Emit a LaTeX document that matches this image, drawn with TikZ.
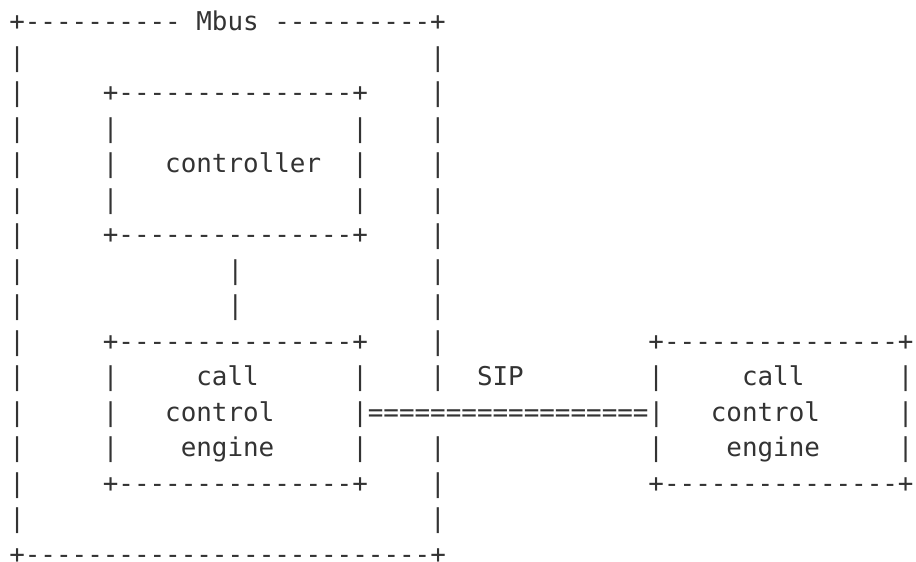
\documentclass[tikz,border=0pt]{standalone}
\usepackage{fontspec}
\setmonofont{DejaVu Sans Mono}
\definecolor{ink}{HTML}{333333}
\begin{document}
\begin{tikzpicture}[x=0.5pt,y=-0.5pt,
  asc/.style={font=\ttfamily\fontsize{12.95pt}{15pt}\selectfont,
              text=ink, inner sep=0pt, anchor=base west}]
\useasboundingbox (0,0) rectangle (916,562);
% character grid: column pitch 15.59, row pitch 35.53
\foreach \r/\c/\s [count=\k] in {
  0/0/{+----------}, 0/12/Mbus, 0/17/{----------+},
  1/0/|, 1/27/|,
  2/0/|, 2/6/{+---------------+}, 2/27/|,
  3/0/|, 3/6/|, 3/22/|, 3/27/|,
  4/0/|, 4/6/|, 4/10/controller, 4/22/|, 4/27/|,
  5/0/|, 5/6/|, 5/22/|, 5/27/|,
  6/0/|, 6/6/{+---------------+}, 6/27/|,
  7/0/|, 7/14/|, 7/27/|,
  8/0/|, 8/14/|, 8/27/|,
  9/0/|, 9/6/{+---------------+}, 9/27/|, 9/41/{+---------------+},
  10/0/|, 10/6/|, 10/12/call, 10/22/|, 10/27/|, 10/30/SIP, 10/41/|, 10/47/call, 10/57/|,
  11/0/|, 11/6/|, 11/10/control, 11/22/{|==================|}, 11/45/control, 11/57/|,
  12/0/|, 12/6/|, 12/11/engine, 12/22/|, 12/27/|, 12/41/|, 12/46/engine, 12/57/|,
  13/0/|, 13/6/{+---------------+}, 13/27/|, 13/41/{+---------------+},
  14/0/|, 14/27/|,
  15/0/{+--------------------------+}}
  \node[asc] (t\k) at ({8.9+15.59*\c},{30.5+35.53*\r}) {\s};
\end{tikzpicture}
\end{document}
